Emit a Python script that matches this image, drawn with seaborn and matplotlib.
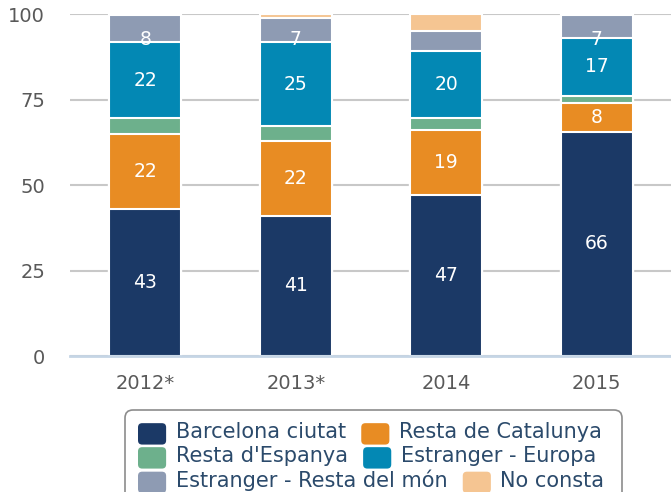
import numpy as np
import pandas as pd
import matplotlib
matplotlib.use("Agg")
import matplotlib.pyplot as plt
import seaborn as sns
from matplotlib.patches import FancyBboxPatch, Patch
from matplotlib.legend_handler import HandlerPatch
from matplotlib.transforms import IdentityTransform

years = ["2012*", "2013*", "2014", "2015"]
series = [
    "Barcelona ciutat",
    "Resta de Catalunya",
    "Resta d'Espanya",
    "Estranger - Europa",
    "Estranger - Resta del món",
    "No consta",
]
barcelona = [42.9, 41.1, 47.0, 65.6]
resta_cat = [22.0, 21.8, 19.0, 8.3]
resta_esp = [4.7, 4.4, 3.6, 2.3]
europa = [22.2, 24.6, 19.6, 16.9]
resta_mon = [7.9, 7.0, 5.8, 6.6]
no_consta = [0.3, 1.1, 5.0, 0.3]
colors = ["#1b3966", "#e88c23", "#6db08c", "#0388b4", "#8e9bb3", "#f5c592"]

values = np.array([barcelona, resta_cat, resta_esp, europa, resta_mon, no_consta])
cum = values.cumsum(axis=0)

sns.set_style("white")
plt.rcParams["font.family"] = ["DejaVu Sans"]

fig = plt.figure(figsize=(6.71, 4.92), dpi=100)
ax = fig.add_axes([70 / 671, 1 - 356 / 492, 602 / 671, (356 - 14.3) / 492])

# stacked bars: draw cumulative totals from top down
for i in reversed(range(len(series))):
    df = pd.DataFrame({"year": years, "total": cum[i]})
    sns.barplot(data=df, x="year", y="total", color=colors[i], width=0.48,
                edgecolor="white", linewidth=1.5, saturation=1, ax=ax, zorder=3)

# value labels (kept inside the plot area near the top)
for i in range(len(series)):
    for j in range(len(years)):
        v = values[i, j]
        if v >= 6.5:
            ax.text(j, min(cum[i, j] - v / 2, 92.5), f"{v:.0f}", ha="center", va="center",
                    color="white", fontsize=13.5, zorder=5)

ax.set_xlim(-0.5, 3.5)
ax.set_ylim(0, 100)
ax.set_yticks([0, 25, 50, 75, 100])
ax.set_xlabel("")
ax.set_ylabel("")
ax.yaxis.grid(True, color="#c8c8c8", linewidth=1.5, zorder=0)
ax.set_axisbelow(True)
for s in ["top", "right", "left"]:
    ax.spines[s].set_visible(False)
ax.spines["bottom"].set_color("#c5d5e5")
ax.spines["bottom"].set_linewidth(2)
ax.spines["bottom"].set_zorder(4)

ax.set_xticks(np.arange(len(years)))
ax.set_xticklabels(years)
ax.set_xticks(np.arange(-0.5, 4.0, 1.0), minor=True)
ax.tick_params(axis="x", which="major", length=0, pad=13, labelsize=14, labelcolor="#595959")
ax.tick_params(axis="x", which="minor", length=12, width=1.5, color="#c5d5e5", direction="out")
ax.tick_params(axis="y", length=0, pad=18, labelsize=14, labelcolor="#595959")


class RoundHandler(HandlerPatch):
    def create_artists(self, legend, orig_handle, xdescent, ydescent, width, height, fontsize, trans):
        p = FancyBboxPatch((-xdescent, -ydescent - 3), width, height + 2,
                           boxstyle="round,pad=0,rounding_size=3",
                           facecolor=orig_handle.get_facecolor(), edgecolor="none",
                           transform=trans)
        return [p]


# legend: three rows, flowing left to right like the original
frame = FancyBboxPatch((125, -10), 497, 92, boxstyle="round,pad=0,rounding_size=8",
                       facecolor="white", edgecolor="#8c8c8c", linewidth=1.2,
                       transform=IdentityTransform(), zorder=1)
fig.patches.append(frame)

handles = [Patch(facecolor=c, label=s) for c, s in zip(colors, series)]
rows = [(0, 1), (2, 3), (4, 5)]
row_y = [432, 456, 480]
for (a, b), y in zip(rows, row_y):
    leg = fig.legend([handles[a], handles[b]], [series[a], series[b]],
                     loc="center left", bbox_to_anchor=(138 / 671, 1 - y / 492),
                     ncol=2, fontsize=15, frameon=False, handlelength=1.35,
                     handleheight=1.0, handletextpad=0.45, columnspacing=0.75,
                     borderpad=0, borderaxespad=0,
                     handler_map={Patch: RoundHandler()})
    leg.set_zorder(2)
    for t in leg.get_texts():
        t.set_color("#2b4a6b")

fig.savefig("out.png", dpi=100)
